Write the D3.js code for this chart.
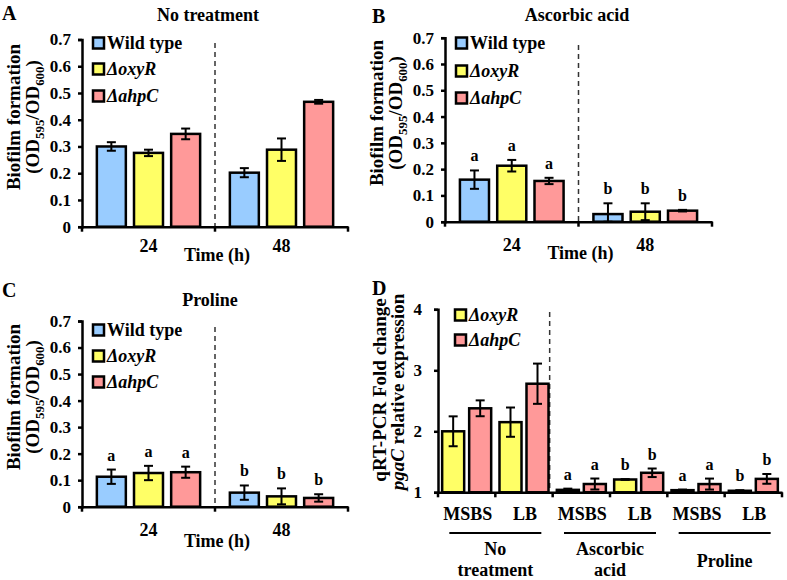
<!DOCTYPE html>
<html>
<head>
<meta charset="utf-8">
<script src="https://cdn.jsdelivr.net/npm/d3@7"></script>
<style>
  html, body { margin: 0; padding: 0; background: #fff; }
  svg { display: block; font-family: "Liberation Serif", "Times New Roman", serif; }
</style>
</head>
<body>
<svg id="chart" width="787" height="580"></svg>
<script>
// ---------- DATA ----------
const times = ["24", "48"];
const strains = ["Wild type", "ΔoxyR", "ΔahpC"];
const strainColors = ["#99CCFF", "#FFFF66", "#FF9999"];
const yTicksOD = [0, 0.1, 0.2, 0.3, 0.4, 0.5, 0.6, 0.7];

// Panel A – No treatment (values at 24 h, 48 h)
const ntWild = [0.300, 0.202];
const ntWildErr = [0.016, 0.017];
const ntOxyR = [0.276, 0.288];
const ntOxyRErr = [0.012, 0.042];
const ntAhpC = [0.347, 0.467];
const ntAhpCErr = [0.020, 0.007];

// Panel B – Ascorbic acid
const aaWild = [0.160, 0.029];
const aaWildErr = [0.035, 0.041];
const aaOxyR = [0.213, 0.038];
const aaOxyRErr = [0.022, 0.032];
const aaAhpC = [0.155, 0.042];
const aaAhpCErr = [0.012, 0.003];
const aaSig = ["a", "b"];

// Panel C – Proline
const prWild = [0.113, 0.053];
const prWildErr = [0.027, 0.027];
const prOxyR = [0.127, 0.039];
const prOxyRErr = [0.027, 0.030];
const prAhpC = [0.130, 0.033];
const prAhpCErr = [0.021, 0.014];
const prSig = ["a", "b"];

// Panel D – qRT-PCR pgaC relative expression
const dCategories = ["MSBS", "LB", "MSBS", "LB", "MSBS", "LB"];
const dGroups = [["No", "treatment"], ["Ascorbic", "acid"], ["Proline"]];
const dStrains = ["ΔoxyR", "ΔahpC"];
const dColors = ["#FFFF66", "#FF9999"];
const dOxyR = [2.00, 2.15, 1.04, 1.21, 1.035, 1.025];
const dOxyRErr = [0.245, 0.24, 0.02, 0.006, 0.01, 0.01];
const dAhpC = [2.377, 2.78, 1.136, 1.32, 1.135, 1.22];
const dAhpCErr = [0.13, 0.33, 0.09, 0.07, 0.09, 0.08];
const dOxyRSig = ["", "", "a", "b", "a", "b"];
const dAhpCSig = ["", "", "a", "b", "a", "b"];
const yTicksD = [1, 2, 3, 4];

// ---------- DRAWING ----------
const svg = d3.select("#chart");
svg.append("rect").attr("width", 787).attr("height", 580).attr("fill", "#fff");

function ylabel(g, x, y, parts, size) {
  const t = g.append("text")
    .attr("transform", `translate(${x},${y}) rotate(-90)`)
    .attr("text-anchor", "middle")
    .attr("font-weight", "bold")
    .attr("font-size", size);
  parts.forEach(p => {
    const ts = t.append("tspan").text(p.t);
    if (p.sub) ts.attr("font-size", size * 0.68).attr("dy", 5);
    if (p.up) ts.attr("dy", -5);
    if (p.it) ts.attr("font-style", "italic");
  });
}

function errorBar(g, cx, yTop, yBot) {
  g.append("line").attr("x1", cx).attr("x2", cx).attr("y1", yTop).attr("y2", yBot)
    .attr("stroke", "#000").attr("stroke-width", 2);
  [yTop, yBot].forEach(yy => g.append("line")
    .attr("x1", cx - 4.5).attr("x2", cx + 4.5).attr("y1", yy).attr("y2", yy)
    .attr("stroke", "#000").attr("stroke-width", 2));
}

function legend(g, x, rows, labels, colors, italics) {
  labels.forEach((lab, i) => {
    g.append("rect").attr("x", x).attr("y", rows[i] - 5.5).attr("width", 11).attr("height", 11)
      .attr("fill", colors[i]).attr("stroke", "#000").attr("stroke-width", 2.5);
    g.append("text").attr("x", x + 14).attr("y", rows[i] + 6)
      .attr("font-size", 18).attr("font-weight", "bold")
      .attr("font-style", italics[i] ? "italic" : "normal")
      .text(lab);
  });
}

function biofilmPanel(o) {
  const g = svg.append("g");
  const x0 = d3.scaleBand().domain(times).range([o.left, o.right]);
  const x1 = d3.scaleBand().domain(strains).range([0, x0.bandwidth()])
    .paddingInner(0.22).paddingOuter(0.4);
  const y = d3.scaleLinear().domain([0, 0.7]).range([o.bottom, o.top]);

  // dashed divider
  g.append("line").attr("x1", x0("48")).attr("x2", x0("48"))
    .attr("y1", o.dashTop).attr("y2", o.bottom)
    .attr("stroke", "#333").attr("stroke-width", 1.5).attr("stroke-dasharray", "5,4");

  // bars
  times.forEach((t, ti) => {
    strains.forEach((s, si) => {
      const v = o.series[si][ti], e = o.errs[si][ti];
      const bx = x0(t) + x1(s);
      g.append("rect").attr("x", bx).attr("y", y(v))
        .attr("width", x1.bandwidth()).attr("height", y(0) - y(v))
        .attr("fill", strainColors[si]).attr("stroke", "#000").attr("stroke-width", 2.5);
      errorBar(g, bx + x1.bandwidth() / 2, y(v + e), y(Math.max(0, v - e)));
      if (o.sig) {
        g.append("text").attr("x", bx + x1.bandwidth() / 2).attr("y", y(v + e) - 9)
          .attr("text-anchor", "middle").attr("font-size", 16).attr("font-weight", "bold")
          .text(o.sig[ti]);
      }
    });
  });

  // y axis
  const ya = g.append("g").attr("transform", `translate(${o.left},0)`)
    .call(d3.axisLeft(y).tickValues(yTicksOD).tickSizeOuter(0).tickSize(4).tickPadding(7)
      .tickFormat(d => d === 0 ? "0" : d3.format(".1f")(d)));
  ya.selectAll("path,line").attr("stroke", "#000").attr("stroke-width", 2.5);
  ya.selectAll("text").attr("font-size", 17).attr("font-weight", "bold")
    .attr("font-family", "Liberation Serif").attr("fill", "#000");

  // x axis
  const xa = g.append("g").attr("transform", `translate(0,${o.bottom})`)
    .call(d3.axisBottom(x0).tickSize(0).tickFormat(""));
  xa.select("path").attr("stroke", "#000").attr("stroke-width", 2.5);
  const bounds = times.map(t => x0(t)).concat([o.right]);
  bounds.forEach(b => g.append("line").attr("x1", b).attr("x2", b)
    .attr("y1", o.bottom).attr("y2", o.bottom + 5).attr("stroke", "#000").attr("stroke-width", 2.5));
  times.forEach(t => g.append("text").attr("x", x0(t) + x0.bandwidth() / 2).attr("y", o.tickBase)
    .attr("text-anchor", "middle").attr("font-size", 18).attr("font-weight", "bold").text(t));
  g.append("text").attr("x", (o.left + o.right) / 2 + 2).attr("y", o.timeBase)
    .attr("text-anchor", "middle").attr("font-size", 18).attr("font-weight", "bold").text("Time (h)");

  // title & letter
  g.append("text").attr("x", o.titleX).attr("y", o.titleY).attr("text-anchor", "middle")
    .attr("font-size", 18).attr("font-weight", "bold").text(o.title);
  g.append("text").attr("x", o.letterX).attr("y", o.letterY)
    .attr("font-size", 20).attr("font-weight", "bold").text(o.letter);

  // y title
  ylabel(g, o.left - 62, o.yTitleC, [{t: "Biofilm formation"}], 19);
  ylabel(g, o.left - 43, o.yTitleC, [{t: "(OD"}, {t: "595", sub: true}, {t: "/OD", up: true},
    {t: "600", sub: true}, {t: ")", up: true}], 19);

  legend(g, o.left + 11, o.legendRows, strains, strainColors, [false, true, true]);
}

biofilmPanel({
  left: 82, right: 348, top: 39.5, bottom: 226.7, dashTop: 43,
  series: [ntWild, ntOxyR, ntAhpC], errs: [ntWildErr, ntOxyRErr, ntAhpCErr],
  title: "No treatment", titleX: 208, titleY: 21, letter: "A", letterX: 2, letterY: 20,
  tickBase: 252, timeBase: 261, yTitleC: 117, legendRows: [43, 69, 96]
});
biofilmPanel({
  left: 445, right: 712, top: 37.7, bottom: 221.7, dashTop: 45,
  series: [aaWild, aaOxyR, aaAhpC], errs: [aaWildErr, aaOxyRErr, aaAhpCErr], sig: aaSig,
  title: "Ascorbic acid", titleX: 577, titleY: 21, letter: "B", letterX: 372, letterY: 23,
  tickBase: 251, timeBase: 259, yTitleC: 113, legendRows: [43, 71, 98]
});
biofilmPanel({
  left: 82, right: 348, top: 321, bottom: 506.7, dashTop: 327,
  series: [prWild, prOxyR, prAhpC], errs: [prWildErr, prOxyRErr, prAhpCErr], sig: prSig,
  title: "Proline", titleX: 210, titleY: 306, letter: "C", letterX: 2, letterY: 297,
  tickBase: 536, timeBase: 547, yTitleC: 397, legendRows: [330, 356, 382]
});

// ---------- Panel D ----------
(function () {
  const g = svg.append("g");
  const left = 438, right = 782, top = 309.3, bottom = 492.3;
  const idx = dCategories.map((d, i) => i);
  const x0 = d3.scaleBand().domain(idx).range([left, right]);
  const x1 = d3.scaleBand().domain(dStrains).range([0, x0.bandwidth()])
    .paddingInner(0.185).paddingOuter(0.154);
  const y = d3.scaleLinear().domain([1, 4]).range([bottom, top]);

  // dashed divider between No treatment and Ascorbic acid
  const dx = x0(2) - 3;
  g.append("line").attr("x1", dx).attr("x2", dx).attr("y1", 312).attr("y2", bottom)
    .attr("stroke", "#333").attr("stroke-width", 1.5).attr("stroke-dasharray", "5,4");

  const series = [dOxyR, dAhpC], errs = [dOxyRErr, dAhpCErr], sigs = [dOxyRSig, dAhpCSig];
  idx.forEach(i => {
    dStrains.forEach((s, si) => {
      const v = series[si][i], e = errs[si][i];
      const bx = x0(i) + x1(s);
      g.append("rect").attr("x", bx).attr("y", y(v))
        .attr("width", x1.bandwidth()).attr("height", y(1) - y(v))
        .attr("fill", dColors[si]).attr("stroke", "#000").attr("stroke-width", 2.5);
      errorBar(g, bx + x1.bandwidth() / 2, y(v + e), y(Math.max(1, v - e)));
      if (sigs[si][i]) {
        g.append("text").attr("x", bx + x1.bandwidth() / 2).attr("y", y(v + e) - 9)
          .attr("text-anchor", "middle").attr("font-size", 16).attr("font-weight", "bold")
          .text(sigs[si][i]);
      }
    });
  });

  const ya = g.append("g").attr("transform", `translate(${left},0)`)
    .call(d3.axisLeft(y).tickValues(yTicksD).tickSizeOuter(0).tickSize(4).tickPadding(12)
      .tickFormat(d3.format("d")));
  ya.selectAll("path,line").attr("stroke", "#000").attr("stroke-width", 2.5);
  ya.selectAll("text").attr("font-size", 17).attr("font-weight", "bold")
    .attr("font-family", "Liberation Serif").attr("fill", "#000");

  const xa = g.append("g").attr("transform", `translate(0,${bottom})`)
    .call(d3.axisBottom(x0).tickSize(0).tickFormat(""));
  xa.select("path").attr("stroke", "#000").attr("stroke-width", 2.5);
  idx.map(i => x0(i)).concat([right]).forEach(b => g.append("line")
    .attr("x1", b).attr("x2", b).attr("y1", bottom).attr("y2", bottom + 5)
    .attr("stroke", "#000").attr("stroke-width", 2.5));

  idx.forEach(i => g.append("text").attr("x", x0(i) + x0.bandwidth() / 2 + 1).attr("y", 520)
    .attr("text-anchor", "middle").attr("font-size", 18).attr("font-weight", "bold")
    .text(dCategories[i]));

  dGroups.forEach((lines, gi) => {
    const gx0 = x0(gi * 2), gx1 = x0(gi * 2 + 1) + x0.bandwidth();
    const cx = (gx0 + gx1) / 2;
    g.append("line").attr("x1", cx - 46).attr("x2", cx + 46)
      .attr("y1", 533).attr("y2", 533).attr("stroke", "#000").attr("stroke-width", 2);
    const base = lines.length === 1 ? 567 : 555;
    lines.forEach((ln, li) => g.append("text").attr("x", cx).attr("y", base + li * 21)
      .attr("text-anchor", "middle").attr("font-size", 18).attr("font-weight", "bold").text(ln));
  });

  g.append("text").attr("x", 372).attr("y", 295)
    .attr("font-size", 20).attr("font-weight", "bold").text("D");

  ylabel(g, left - 52, 390, [{t: "qRT-PCR Fold change"}], 19);
  ylabel(g, left - 34, 392, [{t: "pgaC", it: true}, {t: " relative expression"}], 19);

  legend(g, 455, [315, 340], dStrains, dColors, [true, true]);
})();
</script>
</body>
</html>
